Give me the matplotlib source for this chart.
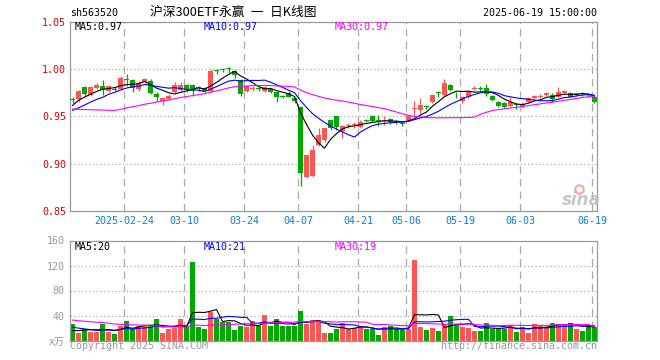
import numpy as np
import pandas as pd
import matplotlib
matplotlib.use('Agg')
import matplotlib.pyplot as plt

code = 'sh563520'
title = '沪深300ETF永赢\u2002一\u2002日K线图'
stamp = '2025-06-19 15:00:00'

# date ticks (index of trading day in the window)
tick_idx = [9, 19, 29, 38, 48, 56, 65, 75, 87]
tick_lab = ['2025-02-24', '03-10', '03-24', '04-07', '04-21', '05-06', '05-19', '06-03', '06-19']

# daily candles 2025-02-11 .. 2025-06-19
opens = [0.968, 0.968, 0.981, 0.973, 0.980, 0.982, 0.977, 0.979, 0.979, 0.990,
         0.989, 0.979, 0.986, 0.987, 0.974, 0.966, 0.968, 0.976, 0.978, 0.983,
         0.983, 0.981, 0.980, 0.977, 0.999, 1.000, 1.001, 0.998, 0.989, 0.977,
         0.979, 0.980, 0.977, 0.979, 0.976, 0.972, 0.975, 0.969, 0.960, 0.8855,
         0.887, 0.920, 0.925, 0.946, 0.950, 0.934, 0.940, 0.941, 0.939, 0.946,
         0.950, 0.946, 0.945, 0.947, 0.9445, 0.9425, 0.946, 0.958, 0.957, 0.9605,
         0.9656, 0.975, 0.9727, 0.983, 0.974, 0.9667, 0.970, 0.9795, 0.9795, 0.980,
         0.972, 0.965, 0.964, 0.9606, 0.963, 0.9613, 0.9656, 0.969, 0.9705, 0.9727,
         0.9727, 0.971, 0.9745, 0.9745, 0.9735, 0.974, 0.973, 0.970]
closes = [0.967, 0.977, 0.974, 0.981, 0.983, 0.978, 0.982, 0.978, 0.991, 0.989,
          0.980, 0.985, 0.990, 0.9745, 0.970, 0.969, 0.972, 0.983, 0.983, 0.978,
          0.977, 0.980, 0.977, 0.998, 0.998, 0.999, 1.000, 0.9935, 0.9735, 0.982,
          0.980, 0.979, 0.981, 0.976, 0.971, 0.971, 0.971, 0.966, 0.8904, 0.909,
          0.9144, 0.930, 0.9374, 0.9374, 0.939, 0.940, 0.941, 0.942, 0.944, 0.9455,
          0.9455, 0.9455, 0.946, 0.9435, 0.944, 0.942, 0.950, 0.959, 0.962, 0.960,
          0.9727, 0.9745, 0.985, 0.978, 0.9734, 0.971, 0.976, 0.980, 0.979, 0.9738,
          0.967, 0.961, 0.960, 0.9655, 0.962, 0.9635, 0.969, 0.972, 0.971, 0.975,
          0.968, 0.976, 0.977, 0.971, 0.974, 0.9735, 0.9725, 0.9656]
highs = [0.970, 0.978, 0.982, 0.982, 0.985, 0.988, 0.983, 0.981, 0.993, 0.995,
         0.990, 0.987, 0.991, 0.990, 0.976, 0.971, 0.974, 0.986, 0.986, 0.984,
         0.984, 0.982, 0.981, 1.0006, 1.000, 1.001, 1.002, 0.999, 0.990, 0.983,
         0.982, 0.981, 0.982, 0.980, 0.977, 0.973, 0.977, 0.970, 0.960, 0.909,
         0.920, 0.9374, 0.938, 0.946, 0.950, 0.941, 0.943, 0.944, 0.946, 0.947,
         0.951, 0.951, 0.950, 0.948, 0.946, 0.944, 0.951, 0.966, 0.969, 0.962,
         0.974, 0.977, 0.990, 0.984, 0.976, 0.972, 0.977, 0.982, 0.982, 0.984,
         0.973, 0.966, 0.965, 0.970, 0.964, 0.965, 0.970, 0.973, 0.974, 0.976,
         0.975, 0.9815, 0.978, 0.976, 0.975, 0.976, 0.975, 0.971]
lows = [0.964, 0.9656, 0.972, 0.972, 0.979, 0.973, 0.976, 0.977, 0.978, 0.982,
        0.976, 0.977, 0.985, 0.974, 0.966, 0.962, 0.967, 0.975, 0.977, 0.976,
        0.972, 0.977, 0.976, 0.976, 0.995, 0.997, 0.996, 0.991, 0.972, 0.976,
        0.977, 0.977, 0.976, 0.975, 0.965, 0.969, 0.970, 0.964, 0.876, 0.885,
        0.886, 0.919, 0.923, 0.936, 0.936, 0.9275, 0.938, 0.938, 0.938, 0.944,
        0.944, 0.940, 0.941, 0.942, 0.942, 0.940, 0.945, 0.951, 0.953, 0.958,
        0.964, 0.971, 0.972, 0.977, 0.9695, 0.964, 0.969, 0.978, 0.977, 0.972,
        0.966, 0.960, 0.959, 0.960, 0.958, 0.960, 0.965, 0.968, 0.969, 0.972,
        0.965, 0.970, 0.974, 0.970, 0.972, 0.972, 0.971, 0.964]
volume = [26.7, 12.8, 18.0, 14.0, 14.4, 26.7, 14.0, 10.7, 23.5, 31.5,
          18.0, 23.5, 24.5, 25.0, 34.0, 12.8, 18.7, 20.3, 34.7, 22.4,
          125.9, 22.4, 18.7, 45.3, 35.2, 29.9, 30.0, 17.0, 24.0, 21.9,
          31.5, 23.5, 41.0, 23.5, 34.0, 23.5, 23.5, 23.5, 47.5, 26.7,
          33.0, 29.3, 12.8, 12.8, 19.2, 28.8, 18.0, 19.7, 22.4, 19.2,
          19.2, 9.6, 22.4, 23.5, 18.0, 17.0, 19.2, 129.0, 22.4, 17.0,
          20.3, 15.5, 26.7, 39.5, 26.0, 22.4, 20.3, 15.5, 15.5, 28.3,
          19.2, 18.0, 18.0, 25.0, 13.9, 22.4, 12.8, 26.7, 23.5, 22.4,
          28.3, 26.7, 25.0, 28.3, 19.2, 16.0, 23.0, 22.4]

# sessions before the window, needed for the moving averages
hist_close = [0.982, 0.985, 0.988, 0.986, 0.984, 0.990, 0.982,
              0.955, 0.945, 0.943, 0.948, 0.947, 0.944, 0.932, 0.930, 0.945,
              0.942, 0.944, 0.946, 0.950, 0.951, 0.944, 0.950, 0.955, 0.956,
              0.950, 0.957, 0.966, 0.968]
hist_vol = [45, 38, 42, 36, 40, 48, 52, 40, 38, 35, 33, 36, 42, 45, 38,
            36, 34, 30, 32, 28, 28, 30, 25, 27, 23, 14, 12, 13, 14]
vol_ma_text = ['MA5:20', 'MA10:21', 'MA30:19']

RED = '#ff5555'
GREEN = '#00a800'
GRAY = '#999999'
GRID = '#aaaaaa'
ma_cols = ['#000000', '#0000ff', '#ff00ff']
mono = 'DejaVu Sans Mono'
W, H = 660.0, 360.0

n = len(closes)
x = np.arange(n)
o = np.array(opens); c = np.array(closes)
hi = np.array(highs); lo = np.array(lows)
up = c >= o
cols = np.where(up, RED, GREEN)

def ma(hist, vals, k):
    s = pd.Series(list(hist) + list(vals))
    return s.rolling(k).mean().values[len(hist):]

fig = plt.figure(figsize=(6.6, 3.6), dpi=100)
fig.patch.set_facecolor('white')
ax = fig.add_axes([70.3/W, 1-210.7/H, 526.4/W, 188.7/H])
axv = fig.add_axes([70.3/W, 1-340.5/H, 526.4/W, 100/H])

for a in (ax, axv):
    a.set_xlim(-0.37, n - 1 + 0.37)
    for s in a.spines.values():
        s.set_color(GRAY); s.set_linewidth(0.9)
    a.tick_params(length=0)
    for t in tick_idx:
        a.axvline(t - 0.37, color=GRID, lw=0.9, dashes=(6, 4), zorder=0)

# price panel
ax.set_ylim(0.85, 1.05)
for yv in (0.90, 0.95, 1.00):
    ax.axhline(yv, color=GRID, lw=0.9, ls=(0, (1, 2)), zorder=0)
ax.vlines(x, lo, hi, colors=cols, lw=0.9, zorder=2)
body = np.maximum(np.abs(c - o), 0.0008)
ax.bar(x, body, bottom=np.minimum(o, c), width=0.75, color=cols, zorder=3)
for k, col in zip((5, 10, 30), ma_cols):
    ax.plot(x, ma(hist_close, closes, k), color=col, lw=0.8, zorder=4)
ax.set_yticks([0.85, 0.90, 0.95, 1.00, 1.05])
ax.set_yticklabels(['%.2f' % v for v in [0.85, 0.90, 0.95, 1.00, 1.05]],
                   color='#e00000', family=mono, fontsize=7.2)
ax.tick_params(axis='y', pad=3)
ax.set_xticks([t - 0.37 for t in tick_idx])
ax.set_xticklabels(tick_lab, color='#0a7ed6', family=mono, fontsize=7.2)
ax.tick_params(axis='x', pad=4)

# volume panel
axv.set_ylim(0, 160)
for yv in (40, 80, 120):
    axv.axhline(yv, color=GRID, lw=0.9, ls=(0, (1, 2)), zorder=0)
axv.bar(x, volume, width=0.8, color=cols, zorder=2)
for k, col in zip((5, 10, 30), ma_cols):
    axv.plot(x, ma(hist_vol, volume, k), color=col, lw=0.8, zorder=3)
axv.set_xticks([])
axv.set_yticks([0, 40, 80, 120, 160])
axv.set_yticklabels(['x万', '40', '80', '120', '160'], color=GRAY,
                    family=[mono, 'Noto Sans CJK SC'], fontsize=7.2)
axv.tick_params(axis='y', pad=4)

# header and labels
fig.text(70/W, 1-13/H, code, family=mono, fontsize=7.2, va='center')
fig.text(150/W, 1-12.5/H, title, family=['Noto Sans CJK SC', 'DejaVu Sans'],
         fontsize=9.2, va='center')
fig.text(597/W, 1-13/H, stamp, family=mono, fontsize=7.2, va='center', ha='right')

last = [ma(hist_close, closes, k)[-1] for k in (5, 10, 30)]
for xp, name, v, col in zip((75, 204, 335), ('MA5', 'MA10', 'MA30'), last, ma_cols):
    fig.text(xp/W, 1-26.5/H, '%s:%.2f' % (name, v), family=mono, fontsize=7.2,
             va='center', color=col)
for xp, txt, col in zip((75, 204, 335), vol_ma_text, ma_cols):
    fig.text(xp/W, 1-247/H, txt, family=mono, fontsize=7.2, va='center', color=col)

fig.text(70/W, 1-346/H, 'Copyright 2025 SINA.COM', family=mono, fontsize=7.2,
         va='center', color=GRAY)
fig.text(597/W, 1-346/H, 'http://finance.sina.com.cn', family=mono, fontsize=7.2,
         va='center', ha='right', color=GRAY)

# sina watermark
fig.text(581/W, 1-200/H, 'sina', family='DejaVu Sans', fontsize=12, style='italic',
         weight='bold', color='#b8b8b8', ha='center', va='center', alpha=0.8)
ax.plot([579/W], [1-189/H], 'o', transform=fig.transFigure, ms=6, mfc='none',
        mec='#f4a6a6', mew=1.5, clip_on=False)

fig.savefig('out.png', dpi=100, facecolor='white')
